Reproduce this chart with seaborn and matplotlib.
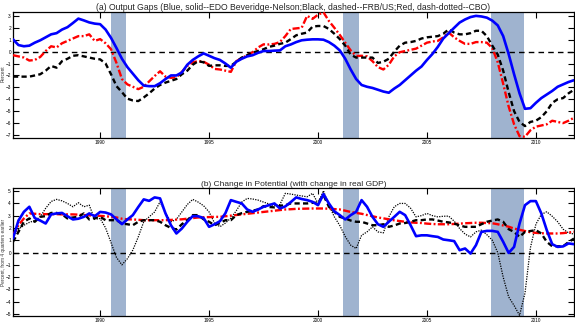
import numpy as np
import pandas as pd
import matplotlib
matplotlib.use("Agg")
import matplotlib.pyplot as plt
import seaborn as sns

# Quarterly observations, 1986Q1 - 2011Q4
quarters = pd.period_range("1986Q1", "2011Q4", freq="Q")
years = np.asarray(quarters.year + (quarters.quarter - 1) / 4.0, dtype=float)

# (a) Output gaps, percent
gap_edo = [
    1.03, 0.55, 0.45, 0.50,   0.75, 0.95, 1.20, 1.45,   1.55, 1.85, 2.05, 2.40,
    2.77, 2.62, 2.45, 2.35,   2.30, 1.85, 1.15, 0.30,  -0.60, -1.30, -1.85, -2.40,
    -2.85, -2.90, -2.90, -2.65, -2.30, -2.00, -2.00, -1.75, -1.10, -0.70, -0.40, -0.15,
    -0.35, -0.55, -0.70, -1.00, -1.35, -0.85, -0.60, -0.40, -0.30, -0.10, 0.05, 0.05,
    0.08, 0.10, 0.45, 0.60,   0.80, 0.95, 1.00, 1.03,   1.03, 1.00, 0.80, 0.50,
    0.10, -0.60, -1.50, -2.30, -2.80, -2.95, -3.05, -3.20, -3.35, -3.45, -3.10, -2.80,
    -2.40, -2.00, -1.60, -1.25, -0.70, -0.20, 0.40, 1.10,  1.55, 2.00, 2.44, 2.70,
    2.90, 3.00, 2.95, 2.85,   2.60, 2.20, 1.30, -0.20,  -1.90, -3.50, -4.80, -4.75,
    -4.30, -3.90, -3.60, -3.30, -2.95, -2.75, -2.55, -2.40,
]
gap_frbus = [
    -2.10, -2.10, -2.10, -2.10, -2.00, -1.90, -1.60, -1.20, -1.35, -0.80, -0.60, -0.35,
    -0.30, -0.40, -0.50, -0.60, -0.65, -1.00, -1.90, -2.90, -3.40, -3.95, -4.10, -4.15,
    -3.85, -3.50, -3.10, -2.80, -2.60, -2.45, -2.30, -1.90, -1.60, -1.10, -0.80, -0.90,
    -1.20, -1.15, -1.15, -1.20, -1.20, -0.85, -0.50, -0.30, -0.08, 0.05, 0.20, 0.40,
    0.50, 0.65, 0.75, 1.05,   1.37, 1.50, 1.60, 2.10,   2.15, 2.15, 1.90, 1.50,
    1.05, 0.50, -0.25, -0.50, -0.50, -0.50, -0.50, -0.95, -0.85, -0.60, 0.00, 0.50,
    0.75, 0.80, 0.90, 1.10,   1.20, 1.25, 1.30, 1.50,   1.87, 1.60, 1.45, 1.45,
    1.55, 1.75, 1.75, 1.30,   0.50, -0.25, -1.60, -3.40, -5.00, -5.90, -6.25, -5.90,
    -5.80, -5.50, -5.00, -4.30, -4.00, -3.90, -3.50, -3.20,
]
gap_cbo = [
    -0.30, -0.40, -0.50, -0.75, -0.70, -0.45, 0.05, 0.45,   0.35, 0.70, 0.90, 1.10,
    1.30, 1.30, 1.45, 0.90,   1.05, 0.70, 0.20, -0.95,  -2.30, -2.75, -2.95, -3.15,
    -2.95, -2.50, -2.05, -1.65, -2.10, -2.20, -2.15, -1.70, -1.20, -0.90, -0.80, -0.85,
    -1.10, -1.45, -1.50, -1.60, -1.70, -0.80, -0.55, -0.30, -0.05, 0.35, 0.61, 0.60,
    0.65, 0.80, 1.30, 1.90,   1.95, 2.00, 3.00, 2.75,   3.10, 3.30, 2.57, 2.00,
    1.40, 0.75, 0.10, -0.37, -0.35, -0.40, -0.80, -1.30, -1.50, -1.10, -0.40, -0.05,
    0.05, 0.15, 0.25, 0.50,   0.75, 0.85, 0.90, 1.20,   1.60, 1.20, 0.90, 0.65,
    0.65, 0.80, 0.80, 0.75,   0.30, -0.90, -2.70, -4.60, -6.10, -7.10, -7.15, -6.60,
    -6.30, -6.20, -6.10, -5.80, -5.90, -6.00, -5.80, -5.55,
]

# (b) Four-quarter change in potential output and in real GDP, percent
pot_edo = [
    1.14, 2.60, 3.31, 3.72,   2.80, 2.60, 2.36, 3.10,   3.18, 3.22, 2.95, 2.69,
    2.75, 2.90, 3.18, 2.95,   3.30, 3.25, 3.10, 2.70,   2.31, 2.69, 3.04, 3.70,
    4.32, 4.20, 4.48, 4.40,   3.18, 2.22, 1.55, 1.95,   2.50, 2.96, 2.95, 2.80,
    2.09, 2.30, 2.55, 3.20,   4.26, 4.12, 3.99, 3.50,   3.31, 3.50, 3.72, 3.85,
    3.99, 3.58, 3.75, 4.10,   4.48, 4.35, 4.26, 4.12,   3.85, 4.75, 3.99, 3.35,
    3.04, 2.69, 3.04, 3.31,   4.26, 3.72, 2.90, 2.30,   2.09, 2.50, 2.90, 3.31,
    3.04, 2.22, 1.33, 1.40,   1.40, 1.33, 1.27, 1.06,   1.00, 0.93, 0.19, 0.33,
    -0.08, 0.60, 1.68, 1.76,  1.76, 1.68, 0.87, -0.03,  0.46, 2.36, 3.85, 4.18,
    4.18, 3.18, 1.82, 0.68,   0.46, 0.50, 0.74, 0.68,
]
pot_frbus = [
    0.87, 1.68, 2.50, 2.77,   2.50, 2.90, 2.96, 3.22,   3.22, 3.11, 2.77, 2.85,
    2.90, 3.18, 2.69, 2.80,   2.90, 2.63, 2.63, 2.63,   2.36, 2.30, 2.22, 2.50,
    2.63, 2.63, 2.63, 2.50,   2.22, 2.00, 1.87, 2.30,   2.63, 3.04, 3.04, 2.70,
    2.50, 2.22, 2.40, 2.63,   2.63, 3.04, 3.20, 3.31,   3.40, 3.50, 3.77, 3.70,
    3.67, 3.80, 3.85, 3.99,   3.99, 3.99, 3.99, 4.04,   4.04, 4.67, 3.72, 3.31,
    2.90, 2.77, 2.60, 2.50,   2.50, 2.36, 2.22, 2.22,   2.30, 2.09, 2.20, 2.36,
    2.40, 2.50, 2.63, 2.63,   2.69, 2.69, 2.60, 2.50,   2.45, 2.36, 2.20, 2.09,
    2.09, 2.09, 2.30, 2.50,   2.60, 2.69, 2.50, 1.90,   1.68, 1.27, 1.68, 1.75,
    1.82, 1.55, 0.87, 0.51,   0.51, 0.51, 0.85, 1.14,
]
pot_cbo = [
    1.41, 2.22, 2.77, 3.18,   3.15, 3.12, 3.12, 3.12,   3.12, 3.10, 3.10, 3.10,
    3.08, 3.05, 3.02, 3.00,   2.98, 2.95, 2.90, 2.85,   2.75, 2.70, 2.69, 2.66,
    2.63, 2.63, 2.63, 2.63,   2.63, 2.65, 2.68, 2.70,   2.75, 2.80, 2.85, 2.87,
    2.88, 2.90, 2.90, 2.95,   3.00, 3.05, 3.10, 3.15,   3.20, 3.25, 3.30, 3.35,
    3.40, 3.45, 3.50, 3.52,   3.55, 3.56, 3.57, 3.58,   3.58, 3.58, 3.56, 3.53,
    3.50, 3.40, 3.30, 3.22,   3.15, 3.05, 2.95, 2.85,   2.78, 2.70, 2.62, 2.56,
    2.50, 2.45, 2.42, 2.40,   2.35, 2.32, 2.30, 2.30,   2.30, 2.32, 2.35, 2.38,
    2.40, 2.42, 2.42, 2.40,   2.38, 2.30, 2.20, 2.10,   1.95, 1.85, 1.75, 1.65,
    1.60, 1.57, 1.55, 1.55,   1.55, 1.58, 1.63, 1.68,
]
gdp_growth = [
    1.41, 1.90, 2.22, 2.45,   2.60, 2.90, 3.60, 4.15,   4.32, 4.20, 3.99, 3.72,
    4.05, 3.72, 3.85, 2.69,   2.77, 2.00, 0.80, -0.40,  -1.00, -0.50, 0.20, 1.27,
    2.50, 2.90, 3.30, 4.12,   3.20, 2.50, 2.70, 3.30,   3.90, 4.32, 4.10, 3.80,
    3.30, 2.40, 2.10, 2.40,   2.80, 3.40, 4.10, 4.40,   4.35, 4.26, 4.10, 3.95,
    3.80, 3.90, 4.81, 4.75,   4.67, 4.60, 4.53, 4.81,   3.99, 5.02, 3.85, 2.90,
    2.20, 1.30, 0.60, 0.33,   1.40, 1.68, 2.09, 1.68,   1.60, 2.90, 3.72, 3.99,
    3.99, 3.60, 2.90, 3.00,   3.18, 3.00, 2.90, 2.95,   2.96, 2.55, 1.95, 1.50,
    1.27, 1.68, 1.82, 1.45,   1.00, 0.00, -2.00, -3.60, -4.30, -5.10, -3.30, 0.40,
    2.30, 3.10, 3.31, 2.95,   2.50, 1.90, 1.60, 1.50,
]

# NBER recessions (decimal years)
recession_start = [1990.50, 2001.17, 2007.92]
recession_end = [1991.20, 2001.88, 2009.47]

x_ticks = [1990, 1995, 2000, 2005, 2010]
gap_ticks = list(range(-7, 4))
pot_ticks = list(range(-5, 6))

title_a = ("(a) Output Gaps (Blue, solid--EDO Beveridge-Nelson;Black, dashed--FRB/US;"
           "Red, dash-dotted--CBO)")
title_b = "(b) Change in Potential (with change in real GDP)"

sns.set_theme(style="ticks")
plt.rcParams["font.family"] = ["Liberation Sans", "DejaVu Sans"]

fig = plt.figure(figsize=(5.75, 3.22), dpi=100)
ax_a = fig.add_axes([13 / 575, 1 - 138 / 322, 561 / 575, 126.3 / 322])
ax_b = fig.add_axes([13 / 575, 1 - 315.7 / 322, 561 / 575, 127.4 / 322])

shade = "#9fb3cf"
blue, red, black = "#0000ff", "#ff0000", "#000000"
lw = 1.7

gaps = pd.DataFrame({"year": years, "EDO": gap_edo, "FRB/US": gap_frbus, "CBO": gap_cbo})
pots = pd.DataFrame({"year": years, "EDO": pot_edo, "FRB/US": pot_frbus, "CBO": pot_cbo,
                     "GDP": gdp_growth})

for ax in (ax_a, ax_b):
    for s, e in zip(recession_start, recession_end):
        ax.axvspan(s, e, color=shade, lw=0, zorder=0)
    ax.axhline(0, color=black, lw=1.0, linestyle=(0, (4, 3)), zorder=1)

# top panel
sns.lineplot(data=gaps, x="year", y="CBO", ax=ax_a, color=red, lw=lw,
             linestyle=(0, (3.0, 1.0, 0.8, 1.0)), zorder=3)
sns.lineplot(data=gaps, x="year", y="FRB/US", ax=ax_a, color=black, lw=lw,
             linestyle=(0, (2.2, 1.4)), zorder=3)
sns.lineplot(data=gaps, x="year", y="EDO", ax=ax_a, color=blue, lw=lw + 0.2, zorder=4)

# bottom panel
sns.lineplot(data=pots, x="year", y="GDP", ax=ax_b, color=black, lw=0.9,
             linestyle=(0, (1, 1)), zorder=2)
sns.lineplot(data=pots, x="year", y="CBO", ax=ax_b, color=red, lw=lw,
             linestyle=(0, (3.0, 1.0, 0.8, 1.0)), zorder=3)
sns.lineplot(data=pots, x="year", y="FRB/US", ax=ax_b, color=black, lw=lw,
             linestyle=(0, (2.2, 1.4)), zorder=3)
sns.lineplot(data=pots, x="year", y="EDO", ax=ax_b, color=blue, lw=lw + 0.2, zorder=4)

ax_a.set_ylim(-7.25, 3.35)
ax_b.set_ylim(-5.13, 5.22)
ax_a.set_yticks(gap_ticks)
ax_b.set_yticks(pot_ticks)

for ax in (ax_a, ax_b):
    ax.set_xlim(years[0], years[-1])
    ax.set_xticks(x_ticks)
    ax.set_xticklabels([str(t) for t in x_ticks])
    ax.tick_params(direction="in", length=4.5, width=0.8, labelsize=3.4, pad=1.5,
                   top=True, right=True, colors=black)
    ax.set_xlabel("")
    ax.set_ylabel("")
    for sp in ax.spines.values():
        sp.set_linewidth(0.9)
        sp.set_color(black)

# axis labels sit in the narrow left margin
fig.text(3.5 / 575, 1 - 74 / 322, "Percent", rotation=90, fontsize=3.4,
         ha="center", va="center", color="#333333")
fig.text(3.5 / 575, 1 - 252 / 322, "Percent, from 4 quarters earlier", rotation=90,
         fontsize=3.4, ha="center", va="center", color="#333333")

ax_a.set_title(title_a, fontsize=6.2, pad=1.5)
ax_b.set_title(title_b, fontsize=6.0, pad=1.8)

fig.savefig("out.png", dpi=100)
